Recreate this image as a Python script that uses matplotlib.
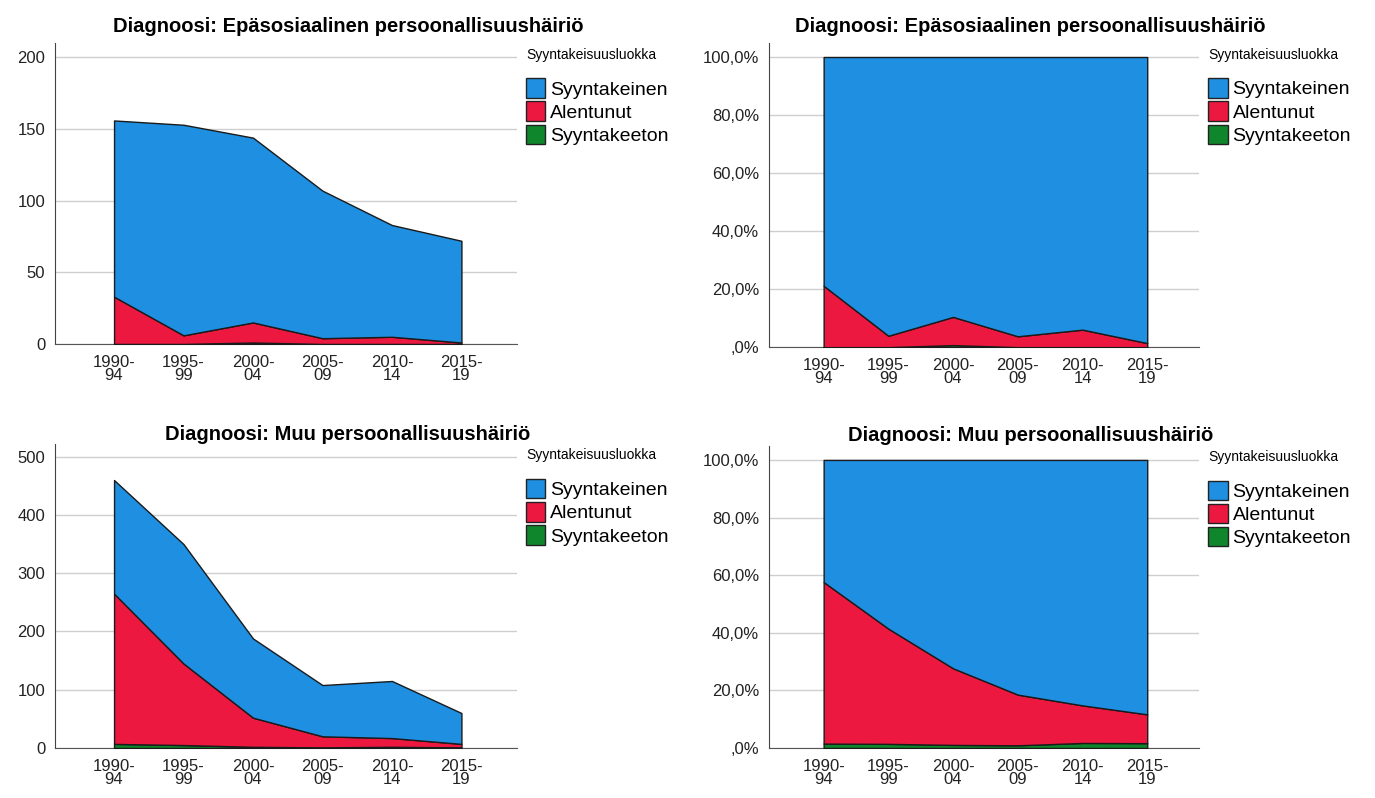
import numpy as np
import matplotlib as mpl
mpl.use('Agg')
import matplotlib.pyplot as plt
from matplotlib.patches import Patch

periods = ['1990-\n94', '1995-\n99', '2000-\n04', '2005-\n09', '2010-\n14', '2015-\n19']
series_names = ['Syyntakeinen', 'Alentunut', 'Syyntakeeton']
legend_title = 'Syyntakeisuusluokka'

# Diagnoosi: Epasosiaalinen persoonallisuushairio (counts)
epa_syyntakeeton = [0, 0, 1, 0, 0, 0]
epa_alentunut = [33, 6, 14, 4, 5, 1]
epa_syyntakeinen = [123, 147, 129, 103, 78, 71]

# Diagnoosi: Muu persoonallisuushairio (counts)
muu_syyntakeeton = [7, 5, 2, 1, 2, 1]
muu_alentunut = [258, 140, 50, 19, 15, 6]
muu_syyntakeinen = [195, 205, 136, 88, 98, 53]

title_epa = 'Diagnoosi: Epäsosiaalinen persoonallisuushäiriö'
title_muu = 'Diagnoosi: Muu persoonallisuushäiriö'

colors = {'Syyntakeinen': '#1e8fe1', 'Alentunut': '#ec1840', 'Syyntakeeton': '#10862c'}

plt.rcParams['font.family'] = ['Liberation Sans', 'DejaVu Sans']

fig = plt.figure(figsize=(13.75, 7.98), dpi=100)
fig.patch.set_facecolor('white')


def pct_label(v, pos=None):
    s = ('%.1f' % v).replace('.', ',')
    if s.startswith('0'):
        s = s[1:]
    return s + '%'


def draw(rect, syk, ale, syt, title, title_x, title_pad, percent, ymax, yticks):
    ax = fig.add_axes(rect)
    x = np.arange(len(periods))
    layers = [np.array(syt, float), np.array(ale, float), np.array(syk, float)]
    if percent:
        tot = layers[0] + layers[1] + layers[2]
        layers = [l / tot * 100 for l in layers]
    base = np.zeros(len(periods))
    for name, vals in zip(['Syyntakeeton', 'Alentunut', 'Syyntakeinen'], layers):
        ax.fill_between(x, base, base + vals, facecolor=colors[name],
                        edgecolor='#1a1a1a', linewidth=1.0, zorder=3)
        base = base + vals
    ax.set_xlim(-0.85, 5.8)
    ax.set_ylim(0, ymax)
    ax.set_yticks(yticks)
    if percent:
        ax.yaxis.set_major_formatter(mpl.ticker.FuncFormatter(pct_label))
    ax.set_xticks(x)
    ax.set_xticklabels(periods, linespacing=0.85)
    ax.tick_params(length=0, labelsize=12, colors='#222222')
    ax.tick_params(axis='x', pad=8)
    ax.tick_params(axis='y', pad=7)
    ax.grid(axis='y', color='#cfcfcf', linewidth=1.0, zorder=0)
    for s in ['top', 'right']:
        ax.spines[s].set_visible(False)
    ax.spines['left'].set_color('#444444')
    ax.spines['bottom'].set_color('#555555')
    ax.set_title(title, x=title_x, fontsize=14.5, fontweight='bold', pad=title_pad)
    handles = [Patch(facecolor=colors[n], edgecolor='#222222', label=n) for n in series_names]
    leg = ax.legend(handles=handles, title=legend_title, loc='upper left',
                    bbox_to_anchor=(0.99, 1.03), frameon=False, fontsize=14,
                    title_fontsize=10, handlelength=1.0, handleheight=1.15,
                    handletextpad=0.25, labelspacing=0.15, borderaxespad=0.3)
    leg._legend_box.align = 'left'
    leg._legend_box.sep = 12
    return ax


draw([0.040, 0.569, 0.336, 0.377], epa_syyntakeinen, epa_alentunut, epa_syyntakeeton,
     title_epa, 0.634, 8, False, 210, [0, 50, 100, 150, 200])
draw([0.559, 0.565, 0.313, 0.381], epa_syyntakeinen, epa_alentunut, epa_syyntakeeton,
     title_epa, 0.609, 8, True, 104.8, [0, 20, 40, 60, 80, 100])
draw([0.040, 0.0627, 0.336, 0.381], muu_syyntakeinen, muu_alentunut, muu_syyntakeeton,
     title_muu, 0.634, 3, False, 522, [0, 100, 200, 300, 400, 500])
draw([0.559, 0.0627, 0.313, 0.379], muu_syyntakeinen, muu_alentunut, muu_syyntakeeton,
     title_muu, 0.609, 3, True, 105, [0, 20, 40, 60, 80, 100])

fig.savefig('out.png', dpi=100)
